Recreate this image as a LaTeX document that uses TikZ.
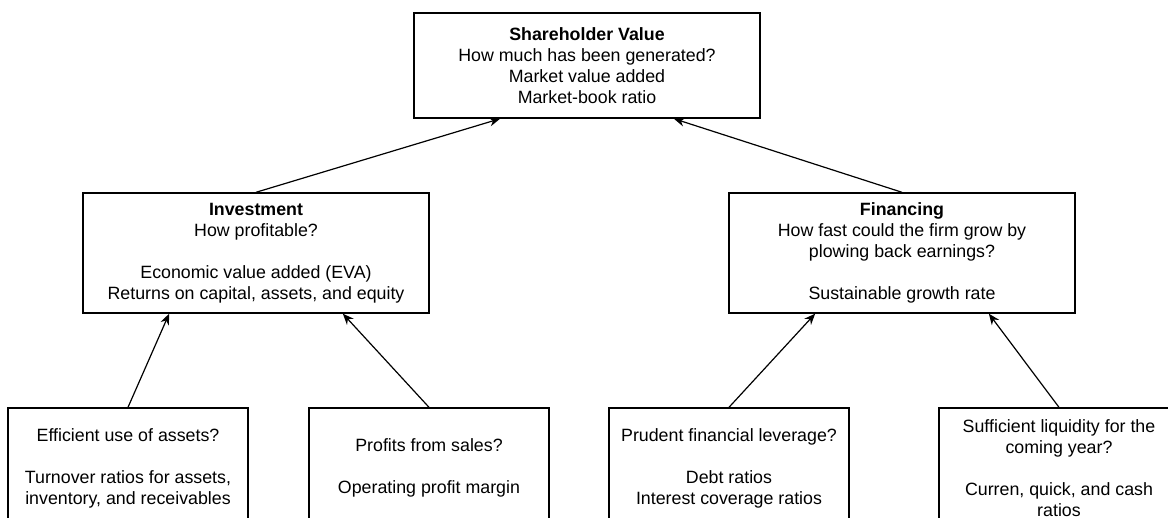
\documentclass[tikz,border=0pt]{standalone}
\usepackage{fontspec}
\setmainfont{Liberation Sans}
\usetikzlibrary{arrows.meta,calc}
\begin{document}
\begin{tikzpicture}[x=1pt,y=-1pt,
  box/.style={draw=black,line width=1.4pt,rectangle,align=center,inner sep=0pt,
    font=\fontsize{17.8}{21}\selectfont},
  topbox/.style={box,minimum width=346pt,minimum height=105pt},
  midbox/.style={box,minimum width=346pt,minimum height=120pt},
  lowbox/.style={box,minimum width=240pt,minimum height=120pt},
  arr/.style={-{Stealth[length=11pt,width=9pt]},line width=1.2pt}]
\useasboundingbox (0,0) rectangle (1168,518);
\fill[white] (0,0) rectangle (1168,518);
\clip (0,0) rectangle (1168,518);
\node[topbox] (sv) at (587,65.5) {\textbf{Shareholder Value}\\How much has been generated?\\Market value added\\Market-book ratio};
\node[midbox] (inv) at (256,253) {\textbf{Investment}\\How profitable?\\[21pt]Economic value added (EVA)\\Returns on capital, assets, and equity};
\node[midbox] (fin) at (902,253) {\textbf{Financing}\\How fast could the firm grow by\\plowing back earnings?\\[21pt]Sustainable growth rate};
\node[lowbox] (b1) at (128,468) {Efficient use of assets?\\[21pt]Turnover ratios for assets,\\inventory, and receivables};
\node[lowbox] (b2) at (429,468) {Profits from sales?\\[21pt]Operating profit margin};
\node[lowbox] (b3) at (729,468) {Prudent financial leverage?\\[21pt]Debt ratios\\Interest coverage ratios};
\node[lowbox] (b4) at (1059,468) {Sufficient liquidity for the\\coming year?\\[21pt]Curren, quick, and cash\\ratios};
\draw[arr] (inv.north) -- ($(sv.south west)!0.25!(sv.south east)$);
\draw[arr] (fin.north) -- ($(sv.south west)!0.75!(sv.south east)$);
\draw[arr] (b1.north) -- ($(inv.south west)!0.25!(inv.south east)$);
\draw[arr] (b2.north) -- ($(inv.south west)!0.75!(inv.south east)$);
\draw[arr] (b3.north) -- ($(fin.south west)!0.25!(fin.south east)$);
\draw[arr] (b4.north) -- ($(fin.south west)!0.75!(fin.south east)$);
\end{tikzpicture}
\end{document}
